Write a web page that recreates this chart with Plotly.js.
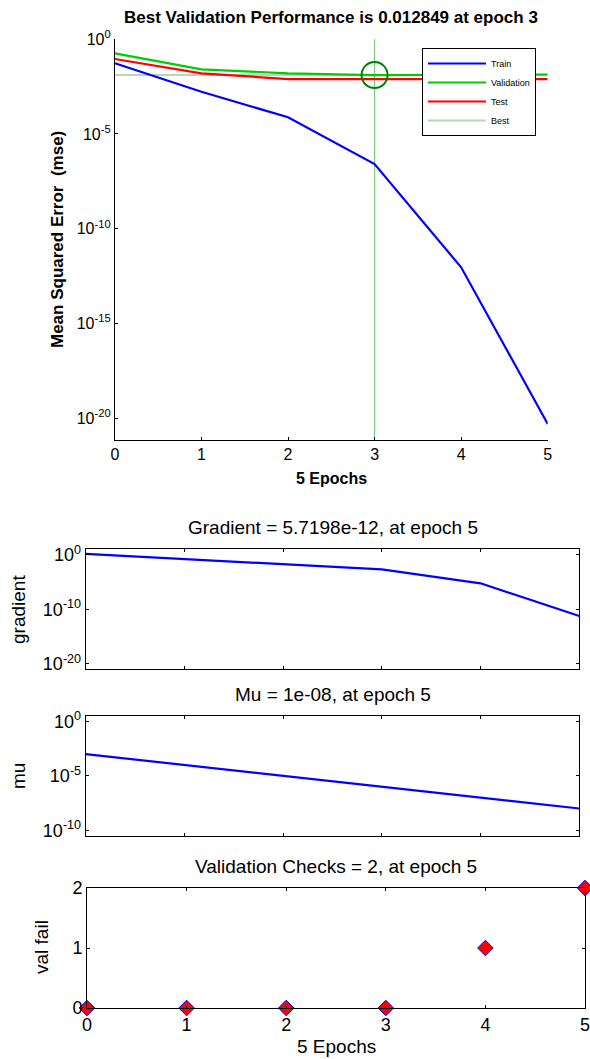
<!DOCTYPE html>
<html>
<head>
<meta charset="utf-8">
<script src="https://cdn.plot.ly/plotly-3.0.1.min.js"></script>
<style>
html,body{margin:0;padding:0;background:#fff;}
#chart{width:590px;height:1059px;}
</style>
</head>
<body>
<div id="chart"></div>
<script>
// ---- data ----
var epochs = [0, 1, 2, 3, 4, 5];
var trainPerf = [0.054, 1.7e-3, 7.6e-5, 2.6e-7, 9.1e-13, 4.9e-21];
var valPerf = [0.18, 0.026, 0.016, 0.012849, 0.0134, 0.0138];
var testPerf = [0.091, 0.016, 0.0079, 0.0079, 0.0078, 0.0079];
var bestEpoch = 3;
var bestPerf = 0.012849;
var gradient = [1.4, 0.17, 0.018, 2.1e-3, 5.8e-6, 5.7198e-12];
var mu = [1e-3, 1e-4, 1e-5, 1e-6, 1e-7, 1e-8];
var valFail = [0, 0, 0, 0, 1, 2];
var perfTickVals = [1, 1e-5, 1e-10, 1e-15, 1e-20];
var perfTickText = ['10<sup>0</sup>', '10<sup>-5</sup>', '10<sup>-10</sup>', '10<sup>-15</sup>', '10<sup>-20</sup>'];
var gradTickVals = [1, 1e-10, 1e-20];
var gradTickText = ['10<sup>0</sup>', '10<sup>-10</sup>', '10<sup>-20</sup>'];
var muTickVals = [1, 1e-5, 1e-10];
var muTickText = ['10<sup>0</sup>', '10<sup>-5</sup>', '10<sup>-10</sup>'];
var failTickVals = [0, 1, 2];
var epochTicks = [0, 1, 2, 3, 4, 5];

var FONT = 'Arial, "Liberation Sans", sans-serif';
var W = 590, H = 1059;
function xd(a, b) { return [a / W, b / W]; }
function yd(top, bottom) { return [1 - bottom / H, 1 - top / H]; }

var traces = [
  {x: [epochs[0], epochs[epochs.length - 1]], y: [bestPerf, bestPerf], name: 'Best', mode: 'lines',
   line: {color: '#b4d9b4', width: 2}, xaxis: 'x', yaxis: 'y', legendrank: 4},
  {x: epochs, y: trainPerf, name: 'Train', mode: 'lines', line: {color: '#0000ff', width: 2.2}, xaxis: 'x', yaxis: 'y', legendrank: 1},
  {x: epochs, y: valPerf, name: 'Validation', mode: 'lines', line: {color: '#00cc00', width: 2.2}, xaxis: 'x', yaxis: 'y', legendrank: 2},
  {x: epochs, y: testPerf, name: 'Test', mode: 'lines', line: {color: '#ff0000', width: 2.2}, xaxis: 'x', yaxis: 'y', legendrank: 3},
  {x: [bestEpoch], y: [bestPerf], mode: 'markers', showlegend: false, cliponaxis: false,
   marker: {symbol: 'circle-open', size: 26, color: '#007f00', line: {width: 2, color: '#007f00'}}, xaxis: 'x', yaxis: 'y'},
  {x: epochs, y: gradient, mode: 'lines', showlegend: false, line: {color: '#0000ff', width: 2.2}, xaxis: 'x2', yaxis: 'y2'},
  {x: epochs, y: mu, mode: 'lines', showlegend: false, line: {color: '#0000ff', width: 2.2}, xaxis: 'x3', yaxis: 'y3'},
  {x: epochs, y: valFail, mode: 'markers', showlegend: false, cliponaxis: false,
   marker: {symbol: 'diamond', size: 12, color: '#ff0000', line: {color: '#0000ff', width: 1}}, xaxis: 'x4', yaxis: 'y4'}
];

function axisBase(extra) {
  var a = {showgrid: false, zeroline: false, showline: true, linecolor: '#000', linewidth: 1,
    ticks: 'inside', ticklen: 3, tickcolor: '#000', tickfont: {family: FONT, size: 18, color: '#000'},
    ticklabeloverflow: 'allow', fixedrange: true};
  for (var k in extra) a[k] = extra[k];
  return a;
}

var layout = {
  width: W, height: H,
  margin: {l: 0, r: 0, t: 0, b: 0},
  paper_bgcolor: '#fff', plot_bgcolor: '#fff',
  font: {family: FONT, color: '#000'},
  showlegend: true,
  legend: {x: 422 / W, y: 1 - 48 / H, xanchor: 'left', yanchor: 'top', bgcolor: '#fff',
    bordercolor: '#000', borderwidth: 1, font: {family: FONT, size: 9, color: '#000'},
    itemwidth: 58, tracegroupgap: 0, traceorder: 'normal'},
  xaxis: axisBase({domain: xd(114.9, 547.7), range: [0, 5], tickvals: epochTicks, anchor: 'y',
    tickfont: {family: FONT, size: 16}}),
  yaxis: axisBase({domain: yd(39.3, 440), type: 'log', range: [-21.16, 0], tickvals: perfTickVals,
    ticktext: perfTickText, anchor: 'x', tickfont: {family: FONT, size: 16}}),
  xaxis2: axisBase({domain: xd(85.7, 579.3), range: [0, 5], tickvals: epochTicks, showticklabels: false,
    mirror: 'ticks', anchor: 'y2'}),
  yaxis2: axisBase({domain: yd(549.3, 669.3), type: 'log', range: [-21, 1], tickvals: gradTickVals,
    ticktext: gradTickText, mirror: 'ticks', anchor: 'x2'}),
  xaxis3: axisBase({domain: xd(85.7, 579.3), range: [0, 5], tickvals: epochTicks, showticklabels: false,
    mirror: 'ticks', anchor: 'y3'}),
  yaxis3: axisBase({domain: yd(716, 835.7), type: 'log', range: [-10.5, 0.5], tickvals: muTickVals,
    ticktext: muTickText, mirror: 'ticks', anchor: 'x3'}),
  xaxis4: axisBase({domain: xd(87, 585), range: [0, 5], tickvals: epochTicks,
    mirror: 'ticks', anchor: 'y4'}),
  yaxis4: axisBase({domain: yd(888, 1008), range: [0, 2], tickvals: failTickVals,
    mirror: 'ticks', anchor: 'x4'}),
  shapes: [
    {type: 'line', xref: 'x', yref: 'y domain', x0: bestEpoch, x1: bestEpoch, y0: 0, y1: 1,
     line: {color: '#6cc46c', width: 1}, layer: 'below'}
  ],
  annotations: [
    {text: '<b>Best Validation Performance is 0.012849 at epoch 3</b>', xref: 'paper', yref: 'paper',
     x: 331 / W, y: 1 - 18 / H, showarrow: false, font: {family: FONT, size: 17}, xanchor: 'center', yanchor: 'middle'},
    {text: '<b>Mean Squared Error  (mse)</b>', xref: 'paper', yref: 'paper', textangle: -90,
     x: 57 / W, y: 1 - 240 / H, showarrow: false, font: {family: FONT, size: 17}, xanchor: 'center', yanchor: 'middle'},
    {text: '<b>5 Epochs</b>', xref: 'paper', yref: 'paper',
     x: 331 / W, y: 1 - 478 / H, showarrow: false, font: {family: FONT, size: 16}, xanchor: 'center', yanchor: 'middle'},
    {text: 'Gradient = 5.7198e-12, at epoch 5', xref: 'paper', yref: 'paper',
     x: 333 / W, y: 1 - 528 / H, showarrow: false, font: {family: FONT, size: 19}, xanchor: 'center', yanchor: 'middle'},
    {text: 'gradient', xref: 'paper', yref: 'paper', textangle: -90,
     x: 18 / W, y: 1 - 610 / H, showarrow: false, font: {family: FONT, size: 19}, xanchor: 'center', yanchor: 'middle'},
    {text: 'Mu = 1e-08, at epoch 5', xref: 'paper', yref: 'paper',
     x: 333 / W, y: 1 - 694 / H, showarrow: false, font: {family: FONT, size: 19}, xanchor: 'center', yanchor: 'middle'},
    {text: 'mu', xref: 'paper', yref: 'paper', textangle: -90,
     x: 18 / W, y: 1 - 776 / H, showarrow: false, font: {family: FONT, size: 19}, xanchor: 'center', yanchor: 'middle'},
    {text: 'Validation Checks = 2, at epoch 5', xref: 'paper', yref: 'paper',
     x: 336 / W, y: 1 - 866 / H, showarrow: false, font: {family: FONT, size: 19}, xanchor: 'center', yanchor: 'middle'},
    {text: 'val fail', xref: 'paper', yref: 'paper', textangle: -90,
     x: 41 / W, y: 1 - 947 / H, showarrow: false, font: {family: FONT, size: 19}, xanchor: 'center', yanchor: 'middle'},
    {text: '5 Epochs', xref: 'paper', yref: 'paper',
     x: 336 / W, y: 1 - 1046 / H, showarrow: false, font: {family: FONT, size: 19}, xanchor: 'center', yanchor: 'middle'}
  ]
};

Plotly.newPlot('chart', traces, layout, {displayModeBar: false, staticPlot: true});
</script>
</body>
</html>
